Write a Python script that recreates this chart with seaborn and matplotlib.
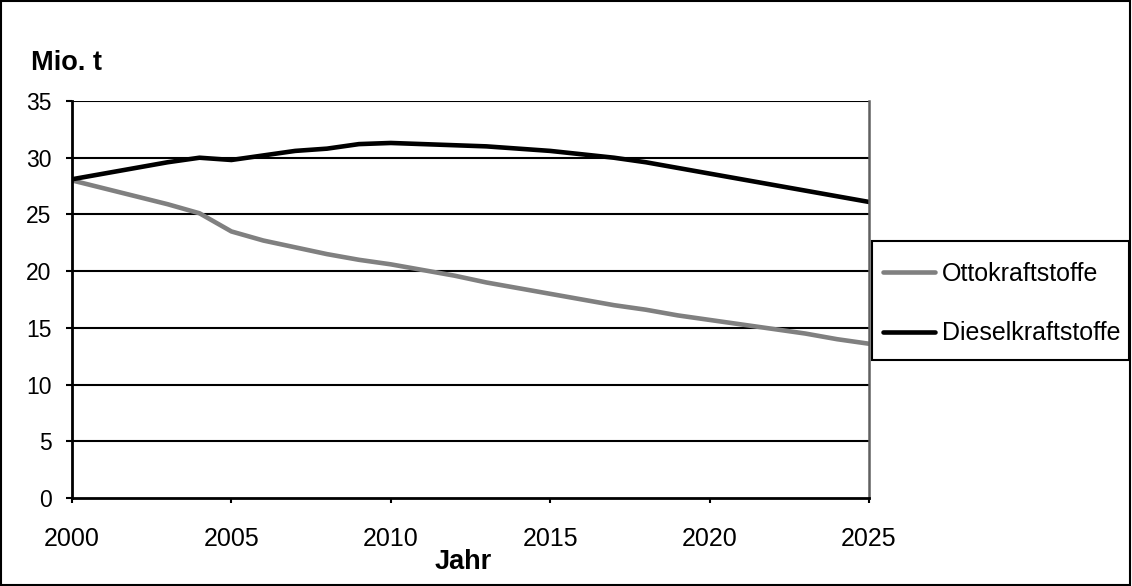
import matplotlib
matplotlib.use("Agg")
import matplotlib.pyplot as plt
import seaborn as sns
import pandas as pd
from matplotlib.patches import Rectangle
from matplotlib.lines import Line2D

years = list(range(2000, 2026))
otto = [28.0, 27.3, 26.6, 25.9, 25.1, 23.5, 22.7, 22.1, 21.5, 21.0, 20.6,
        20.1, 19.6, 19.0, 18.5, 18.0, 17.5, 17.0, 16.6, 16.1, 15.7,
        15.3, 14.9, 14.5, 14.0, 13.6]
diesel = [28.1, 28.6, 29.1, 29.6, 30.0, 29.8, 30.2, 30.6, 30.8, 31.2, 31.3,
          31.2, 31.1, 31.0, 30.8, 30.6, 30.3, 30.0, 29.6, 29.1, 28.6,
          28.1, 27.6, 27.1, 26.6, 26.1]
series_names = ["Ottokraftstoffe", "Dieselkraftstoffe"]
yticks = [0, 5, 10, 15, 20, 25, 30, 35]
xticks = [2000, 2005, 2010, 2015, 2020, 2025]

df = pd.DataFrame({
    "Jahr": years * 2,
    "Wert": otto + diesel,
    "Serie": [series_names[0]] * len(years) + [series_names[1]] * len(years),
})

sns.set_style("white")
plt.rcParams["font.family"] = ["Liberation Sans", "DejaVu Sans"]
plt.rcParams["text.color"] = "black"
plt.rcParams["xtick.color"] = "black"
plt.rcParams["ytick.color"] = "black"

fig = plt.figure(figsize=(11.32, 5.86), dpi=100)
ax = fig.add_axes([72 / 1132, 88 / 586, 797 / 1132, 397 / 586])

colors = {series_names[0]: "#808080", series_names[1]: "#000000"}
sns.lineplot(data=df, x="Jahr", y="Wert", hue="Serie", palette=colors,
             linewidth=3.3, ax=ax, legend=False)

ax.set_xlim(2000, 2025)
ax.set_ylim(0, 35)
ax.set_yticks(yticks)
ax.set_xticks(xticks)
ax.set_yticklabels([str(v) for v in yticks], fontsize=16.5)
ax.set_xticklabels([str(v) for v in xticks], fontsize=18)
for yv in yticks[1:]:
    ax.axhline(yv, color="black", linewidth=1.5, zorder=0)
ax.spines["top"].set_visible(False)
ax.spines["right"].set_visible(True)
ax.spines["right"].set_color("#606060")
ax.spines["right"].set_linewidth(1.8)
for s in ["left", "bottom"]:
    ax.spines[s].set_linewidth(2)
    ax.spines[s].set_color("black")
ax.tick_params(axis="y", direction="out", length=4.3, width=1.5, pad=10.5, left=True)
ax.tick_params(axis="x", direction="out", length=3.6, width=1.5, pad=17, bottom=True)
ax.set_xlabel("")
ax.set_ylabel("")

fig.text(463 / 1132, 1 - 562 / 586, "Jahr", fontsize=19.5, fontweight="bold",
         ha="center", va="center")
fig.text(31 / 1132, 1 - 63 / 586, "Mio. t", fontsize=19.5, fontweight="bold",
         ha="left", va="center")

handles = [Line2D([], [], color=colors[n], linewidth=3.3) for n in series_names]
leg = fig.legend(handles, series_names, loc="upper left",
                 bbox_to_anchor=(872 / 1132, 1 - 251 / 586),
                 fontsize=18, frameon=False,
                 borderpad=0.44, labelspacing=1.42, handlelength=2.08,
                 handletextpad=0.28, borderaxespad=0)

fig.patches.append(Rectangle((872 / 1132, 1 - 360 / 586), 257 / 1132, 119 / 586,
                             transform=fig.transFigure, fill=False,
                             edgecolor="black", linewidth=1.5))
fig.patches.append(Rectangle((0.001, 0.002), 0.997, 0.996, transform=fig.transFigure,
                             fill=False, edgecolor="black", linewidth=1.5))

fig.savefig("out.png", dpi=100)
